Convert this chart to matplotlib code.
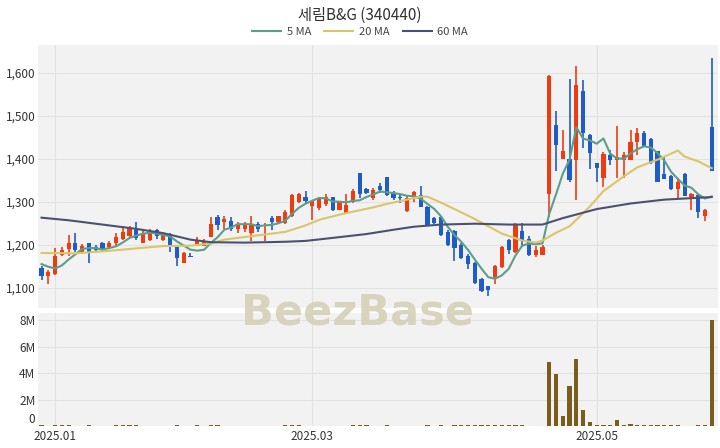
import matplotlib
matplotlib.use("Agg")
import matplotlib.pyplot as plt
from matplotlib.lines import Line2D
import numpy as np
import pandas as pd

plt.rcParams["font.family"] = ["Noto Sans CJK KR", "DejaVu Sans"]

# daily candles, index 0 = 2024-12-27 ... 99 = late May 2025
opens = [1147, 1128, 1133, 1177, 1190, 1205, 1182, 1204, 1196, 1204,
         1196, 1205, 1213, 1220, 1235, 1204, 1212, 1235, 1210, 1225,
         1194, 1158, 1175, 1198, 1198, 1217, 1264, 1253, 1256, 1237,
         1237, 1227, 1248, 1245, 1262, 1254, 1251, 1266, 1299, 1312,
         1291, 1285, 1295, 1310, 1281, 1274, 1299, 1367, 1330, 1309,
         1337, 1358, 1321, 1310, 1279, 1309, 1316, 1289, 1262, 1265,
         1229, 1231, 1200, 1174, 1158, 1120, 1103, 1124, 1148, 1212,
         1184, 1231, 1213, 1177, 1177, 1319, 1479, 1399, 1399, 1398,
         1557, 1456, 1390, 1355, 1409, 1398, 1398, 1398, 1438, 1461,
         1447, 1417, 1365, 1360, 1330, 1365, 1311, 1316, 1266, 1475]
closes = [1128, 1136, 1173, 1188, 1204, 1188, 1198, 1184, 1187, 1188,
          1205, 1218, 1229, 1239, 1216, 1227, 1229, 1220, 1223, 1198,
          1169, 1181, 1172, 1212, 1208, 1248, 1247, 1260, 1237, 1248,
          1247, 1247, 1237, 1247, 1253, 1266, 1277, 1316, 1318, 1301,
          1301, 1308, 1312, 1281, 1299, 1293, 1326, 1318, 1320, 1328,
          1328, 1316, 1309, 1308, 1309, 1322, 1289, 1247, 1251, 1223,
          1200, 1192, 1169, 1156, 1112, 1092, 1094, 1151, 1196, 1187,
          1247, 1208, 1177, 1188, 1196, 1593, 1433, 1417, 1351, 1572,
          1461, 1413, 1378, 1412, 1396, 1405, 1409, 1440, 1461, 1430,
          1390, 1345, 1353, 1330, 1347, 1314, 1319, 1277, 1281, 1371]
highs = [1151, 1142, 1193, 1196, 1223, 1228, 1202, 1205, 1199, 1206,
         1208, 1228, 1243, 1243, 1253, 1233, 1237, 1237, 1227, 1227,
         1196, 1184, 1182, 1218, 1214, 1264, 1270, 1267, 1264, 1254,
         1253, 1268, 1254, 1251, 1266, 1268, 1281, 1318, 1321, 1326,
         1305, 1310, 1318, 1312, 1302, 1318, 1330, 1367, 1332, 1333,
         1343, 1358, 1325, 1318, 1313, 1325, 1337, 1291, 1265, 1267,
         1235, 1235, 1203, 1179, 1160, 1123, 1105, 1153, 1198, 1214,
         1250, 1250, 1221, 1197, 1200, 1595, 1510, 1466, 1585, 1616,
         1584, 1458, 1391, 1415, 1420, 1477, 1415, 1466, 1471, 1464,
         1448, 1418, 1405, 1362, 1355, 1366, 1320, 1317, 1284, 1635]
lows = [1119, 1109, 1130, 1173, 1173, 1184, 1179, 1158, 1184, 1185,
        1190, 1198, 1212, 1216, 1212, 1203, 1209, 1214, 1209, 1184,
        1150, 1157, 1171, 1197, 1197, 1217, 1235, 1237, 1231, 1227,
        1230, 1209, 1230, 1209, 1235, 1248, 1248, 1264, 1297, 1297,
        1258, 1282, 1291, 1279, 1281, 1274, 1297, 1309, 1317, 1305,
        1321, 1313, 1305, 1297, 1277, 1299, 1288, 1247, 1249, 1220,
        1198, 1162, 1167, 1144, 1109, 1090, 1080, 1109, 1146, 1179,
        1180, 1196, 1175, 1172, 1176, 1265, 1371, 1399, 1345, 1303,
        1425, 1376, 1345, 1334, 1385, 1355, 1355, 1397, 1409, 1429,
        1387, 1345, 1352, 1328, 1306, 1313, 1280, 1262, 1255, 1371]
volume_m = [0.05, 0.04, 0.08, 0.05, 0.06, 0.04, 0.03, 0.05, 0.03, 0.03,
            0.04, 0.05, 0.06, 0.05, 0.05, 0.04, 0.03, 0.03, 0.03, 0.04,
            0.05, 0.04, 0.03, 0.05, 0.03, 0.07, 0.05, 0.04, 0.04, 0.03,
            0.03, 0.04, 0.03, 0.03, 0.03, 0.04, 0.05, 0.07, 0.05, 0.04,
            0.03, 0.03, 0.04, 0.04, 0.03, 0.03, 0.05, 0.08, 0.05, 0.04,
            0.04, 0.06, 0.04, 0.03, 0.04, 0.04, 0.04, 0.05, 0.03, 0.05,
            0.04, 0.06, 0.05, 0.05, 0.08, 0.1, 0.08, 0.06, 0.07, 0.05,
            0.06, 0.05, 0.04, 0.03, 0.04, 4.85, 3.9, 0.75, 3.0, 5.06,
            1.2, 0.33, 0.08, 0.08, 0.08, 0.45, 0.05, 0.15, 0.06, 0.06,
            0.05, 0.05, 0.05, 0.05, 0.05, 0.04, 0.04, 0.06, 0.06, 8.05]

# first four 5-day MA values (need data from before the window)
ma5_head = [1155, 1149, 1145, 1152]
ma20_idx = [0, 5, 10, 15, 18, 22, 25, 27, 30, 33, 36, 39, 41, 44, 46, 49, 51, 54,
            56, 57, 59, 61, 64, 66, 68, 71, 73, 74, 76, 78, 81, 83, 86, 88, 91,
            93, 94, 95, 97, 99]
ma20_val = [1181, 1180, 1186, 1193, 1197, 1198, 1203, 1212, 1218, 1224, 1230,
            1245, 1258, 1270, 1277, 1287, 1295, 1305, 1312, 1312, 1298, 1283,
            1260, 1243, 1226, 1210, 1205, 1210, 1228, 1243, 1289, 1325, 1359,
            1380, 1398, 1412, 1419, 1405, 1394, 1378]
ma60_idx = [0, 4, 9, 14, 18, 22, 25, 30, 36, 39, 43, 48, 52, 55, 59, 64, 69, 74,
            77, 82, 87, 92, 99]
ma60_val = [1263, 1257, 1247, 1237, 1227, 1212, 1206, 1205, 1207, 1209, 1216,
            1225, 1235, 1242, 1247, 1249, 1247, 1247, 1262, 1283, 1296, 1305,
            1311]

tick_idx = [2, 40, 82]
tick_labels = ["2025.01", "2025.03", "2025.05"]

UP = "#ec3d12"
DOWN = "#1f5cc8"
BG = "#f2f2f2"
GRID = "#e2e2e2"

o = np.array(opens, dtype=float)
c = np.array(closes, dtype=float)
h = np.array(highs, dtype=float)
l = np.array(lows, dtype=float)
x = np.arange(len(o))
ma5 = pd.Series(c).rolling(5).mean().to_numpy()
ma5[:4] = ma5_head

fig = plt.figure(figsize=(7.2, 4.48), dpi=100)
ax = fig.add_axes([0.053, 0.3125, 0.944, 0.5875])
axv = fig.add_axes([0.053, 0.049, 0.944, 0.252], sharex=ax)

for a in (ax, axv):
    a.set_facecolor(BG)
    for s in a.spines.values():
        s.set_visible(False)
    a.tick_params(length=0, labelsize=8.5, colors="#333333")
    a.grid(True, color=GRID, linewidth=0.8)
    a.set_axisbelow(True)

up = c >= o
cols = np.where(up, UP, DOWN)
ax.vlines(x, l, h, colors=cols, linewidth=1.2, zorder=2)
ax.bar(x, np.abs(c - o), bottom=np.minimum(o, c), width=0.62, color=cols, zorder=3)

ax.plot(x, ma5, color="#5b9e8a", linewidth=1.5, zorder=4)
ax.plot(ma20_idx, ma20_val, color="#d9c56a", linewidth=1.5, zorder=4)
ax.plot(ma60_idx, ma60_val, color="#4b5270", linewidth=1.5, zorder=4)

ax.set_xlim(-0.5, 99.9)
ax.set_ylim(1053, 1665)
ax.set_yticks([1100, 1200, 1300, 1400, 1500, 1600])
ax.set_yticklabels([f"{v:,}" for v in [1100, 1200, 1300, 1400, 1500, 1600]])
ax.set_xticks(tick_idx)
ax.tick_params(axis="x", labelbottom=False)
ax.tick_params(axis="y", pad=2)

axv.bar(x, volume_m, width=0.62, color="#7a5c1c", zorder=3)
axv.set_ylim(0, 8.53)
axv.set_yticks([0, 2, 4, 6, 8])
axv.set_yticklabels(["0", "2M", "4M", "6M", "8M"])
axv.set_xticks(tick_idx)
axv.set_xticklabels(tick_labels)
axv.tick_params(axis="x", pad=3)
axv.tick_params(axis="y", pad=2)
axv.get_yticklabels()[0].set_verticalalignment("bottom")

fig.text(0.497, 0.303, "BeezBase", ha="center", va="center", fontsize=31,
         fontweight="bold", color="#d6d0b8", alpha=0.9, zorder=10,
         family=["DejaVu Sans"])

fig.text(0.5, 0.965, "세림B&G (340440)", ha="center", va="center",
         fontsize=11, color="#333333")

handles = [Line2D([], [], color="#5b9e8a", linewidth=1.5),
           Line2D([], [], color="#d9c56a", linewidth=1.5),
           Line2D([], [], color="#4b5270", linewidth=1.5)]
fig.legend(handles, ["5 MA", "20 MA", "60 MA"], loc="center",
           bbox_to_anchor=(0.5, 0.928), ncol=3, frameon=False, fontsize=8,
           handlelength=2.6, columnspacing=1.2, handletextpad=0.5,
           labelcolor="#444444")

fig.savefig("out.png", dpi=100, facecolor="white")
plt.close(fig)
